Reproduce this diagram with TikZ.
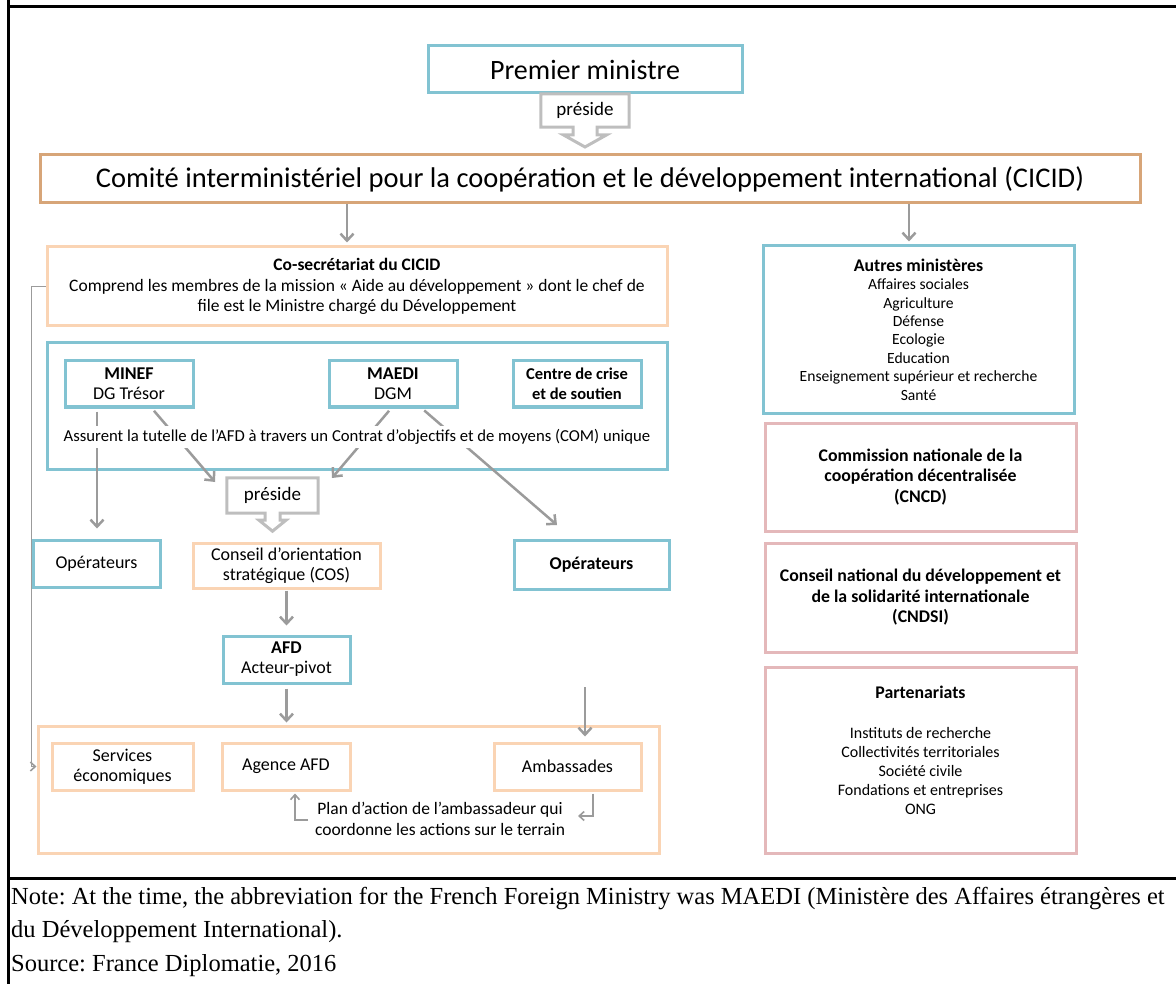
\documentclass[tikz,border=0pt]{standalone}
\usepackage{fontspec}
\setmainfont{Carlito}
\newfontfamily\notefont{Liberation Serif}
\usepackage{tikz}
\usetikzlibrary{arrows.meta}
\frenchspacing
\definecolor{boxblue}{RGB}{130,195,210}
\definecolor{boxpeach}{RGB}{250,212,180}
\definecolor{boxtan}{RGB}{215,165,120}
\definecolor{boxpink}{RGB}{228,184,186}
\definecolor{arrowgrey}{RGB}{155,155,155}
\definecolor{calloutgrey}{RGB}{190,190,190}
\tikzset{
  orgbox/.style={draw, line width=3pt, fill=white, align=center, inner sep=0pt, font=\fontsize{18}{20}\selectfont},
  bluebox/.style={orgbox, draw=boxblue},
  peachbox/.style={orgbox, draw=boxpeach},
  tanbox/.style={orgbox, draw=boxtan},
  pinkbox/.style={orgbox, draw=boxpink},
  calloutbox/.style={inner sep=0pt, align=center, font=\fontsize{19}{22}\selectfont},
  calloutline/.style={draw=calloutgrey, line width=3pt, line join=miter},
  grayarrow/.style={draw=arrowgrey, line width=2.5pt, -{Straight Barb[length=7pt,width=13pt]}},
  thinarrow/.style={draw=arrowgrey, line width=1.6pt, -{Straight Barb[length=5pt,width=9pt]}},
  frameline/.style={draw=black, line width=3pt},
}
\newcommand{\orgnode}[4] {\node at (#1) (#2) [#3] {#4};}
\newcommand{\presidenode}[6] {\node at (#1) (#2) [calloutbox, #3] {#4};
  \draw [calloutline] (#2.south) ++(7.5*#5,0) -- (#2.south east) -- (#2.north east) -- (#2.north west) -- (#2.south west) -- ([xshift={-7.5pt*#5}]#2.south) -- ++(0,7*#6) -- ++(-6*#5,0) -- ++(13.5*#5,11*#6) -- ++(13.5*#5,-11*#6) -- ++(-6*#5,0) -- cycle;}

\begin{document}
\begin{tikzpicture}[x=1pt, y=-1pt]
\useasboundingbox (0,0) rectangle (1176,984);

\draw [frameline] (8,0) -- (8,984);
\draw [frameline] (8,7) -- (1176,7);
\draw [frameline] (8,878) -- (1176,878);

\orgnode {585,69.5} {premier} {bluebox, minimum width=314pt, minimum height=47pt, font=\fontsize{28}{32}\selectfont} {Premier ministre};
\presidenode {585,110.5} {preside1} {minimum width=88pt, minimum height=33pt} {préside} {1.6} {1.1};
\orgnode {590,179} {cicid} {tanbox, minimum width=1100pt, minimum height=48pt, font=\fontsize{28.5}{32}\selectfont} {Comité interministériel pour la coopération et le développement international (CICID)};

\orgnode {357,286.5} {cosec} {peachbox, minimum width=620pt, minimum height=79pt, font=\fontsize{17.5}{20.5}\selectfont} {\textbf{Co-secrétariat du CICID}\\Comprend les membres de la mission « Aide au développement » dont le chef de\\file est le Ministre chargé du Développement};
\orgnode {918.5,329.5} {autres} {bluebox, minimum width=311pt, minimum height=167pt, font=\fontsize{15.6}{18.4}\selectfont} {\textbf{\fontsize{17.8}{18.4}\selectfont Autres ministères}\\Affaires sociales\\Agriculture\\Défense\\Ecologie\\Education\\Enseignement supérieur et recherche\\Santé};

\draw [grayarrow, shorten >=3pt] (cicid.south -| 347,0) -- (cosec.north -| 347,0);
\draw [grayarrow, shorten >=3pt] (cicid.south -| 909,0) -- (autres.north -| 909,0);

\orgnode {357,406} {tutellebox} {bluebox, minimum width=620pt, minimum height=126pt} {};
\orgnode {129,384} {minef} {bluebox, minimum width=128pt, minimum height=46pt} {\textbf{MINEF}\\DG Trésor};
\orgnode {393,384} {maedi} {bluebox, minimum width=128pt, minimum height=46pt} {\textbf{MAEDI}\\DGM};
\orgnode {577,384} {crise} {bluebox, minimum width=128pt, minimum height=46pt, font=\fontsize{16.5}{20}\selectfont\bfseries} {Centre de crise\\et de soutien};

\presidenode {272.5,495.5} {preside2} {minimum width=91pt, minimum height=35pt} {préside} {1} {1};
\orgnode {96.5,563.5} {operL} {bluebox, minimum width=127pt, minimum height=47pt} {Opérateurs};
\orgnode {286.5,565.5} {cos} {peachbox, minimum width=187pt, minimum height=45pt} {Conseil d’orientation\\stratégique (COS)};
\orgnode {591.5,564.5} {operR} {bluebox, minimum width=155pt, minimum height=49pt} {\textbf{Opérateurs}};

\coordinate (tutelleL) at (215,482);
\coordinate (tutelleR) at (332,478);
\coordinate (operRtop) at (557,525);
\draw [grayarrow, shorten <=3pt, shorten >=10pt] ([xshift=-32pt]minef.south) -- (operL.north -| 97,0);
\draw [grayarrow, shorten <=3pt] ([xshift=23pt]minef.south) -- (tutelleL);
\draw [grayarrow, shorten <=3pt] ([xshift=-2pt]maedi.south) -- (tutelleR);
\draw [grayarrow, shorten <=3pt] ([xshift=29pt]maedi.south) -- (operRtop);
\node at (357,437) (tutelle) [fill=white, inner sep=3pt, font=\fontsize{16.7}{18}\selectfont] {Assurent la tutelle de l’AFD à travers un Contrat d’objectifs et de moyens (COM) unique};

\orgnode {286.5,659.5} {afd} {bluebox, minimum width=127pt, minimum height=47pt} {\textbf{AFD}\\Acteur-pivot};

\orgnode {348.5,789.5} {terrain} {peachbox, minimum width=621pt, minimum height=127pt} {};
\orgnode {122.5,766.5} {services} {peachbox, minimum width=141pt, minimum height=47pt} {Services\\économiques};
\orgnode {286,766.5} {agence} {peachbox, minimum width=128pt, minimum height=47pt} {Agence AFD};
\orgnode {567.5,766.5} {ambassades} {peachbox, minimum width=147pt, minimum height=47pt} {Ambassades};
\node at (440,818.5) (plan) [align=center, font=\fontsize{17.5}{21}\selectfont] {Plan d’action de l’ambassadeur qui\\coordonne les actions sur le terrain};

\draw [grayarrow, shorten <=1pt, shorten >=9pt] (cos.south) -- (afd.north);
\draw [grayarrow, shorten <=4pt, shorten >=2pt] (afd.south) -- (terrain.north -| afd.south);
\coordinate (ambtop) at (585,687);
\draw [grayarrow, shorten >=5pt] (ambtop) -- (ambassades.north -| ambtop);

\coordinate (planL) at (308,820);
\coordinate (planR) at (578,816);
\draw [thinarrow, shorten >=2pt] (planL) -| (agence.south -| 295,0);
\draw [thinarrow, shorten <=2pt] (ambassades.south -| 593,0) |- (planR);
\draw [thinarrow] (cosec.west) -- ++(-14,0) |- (terrain.west |- services.west);

\orgnode {920.5,477} {cncd} {pinkbox, minimum width=311pt, minimum height=108pt, font=\fontsize{17.8}{20.5}\selectfont\bfseries} {Commission nationale de la\\coopération décentralisée\\(CNCD)};
\orgnode {920.5,597.5} {cndsi} {pinkbox, minimum width=311pt, minimum height=109pt, font=\fontsize{17.8}{20.5}\selectfont\bfseries} {Conseil national du développement et\\de la solidarité internationale\\(CNDSI)};
\orgnode {920.5,760} {partenariats} {pinkbox, minimum width=311pt, minimum height=186pt, font=\fontsize{16}{19}\selectfont} {\textbf{\fontsize{17.8}{19}\selectfont Partenariats}\\[21pt]Instituts de recherche\\Collectivités territoriales\\Société civile\\Fondations et entreprises\\ONG\\\mbox{}};

\node at (11,914.5) (note) [anchor=west, align=left, inner sep=0pt, font=\notefont\fontsize{24.5}{33}\selectfont] {Note: At the time, the abbreviation for the French Foreign Ministry was MAEDI (Ministère des Affaires étrangères et\\du Développement International).};
\node at (11,966) (source) [anchor=west, inner sep=0pt, font=\notefont\fontsize{24.5}{33}\selectfont] {Source: France Diplomatie, 2016};
\end{tikzpicture}
\end{document}
